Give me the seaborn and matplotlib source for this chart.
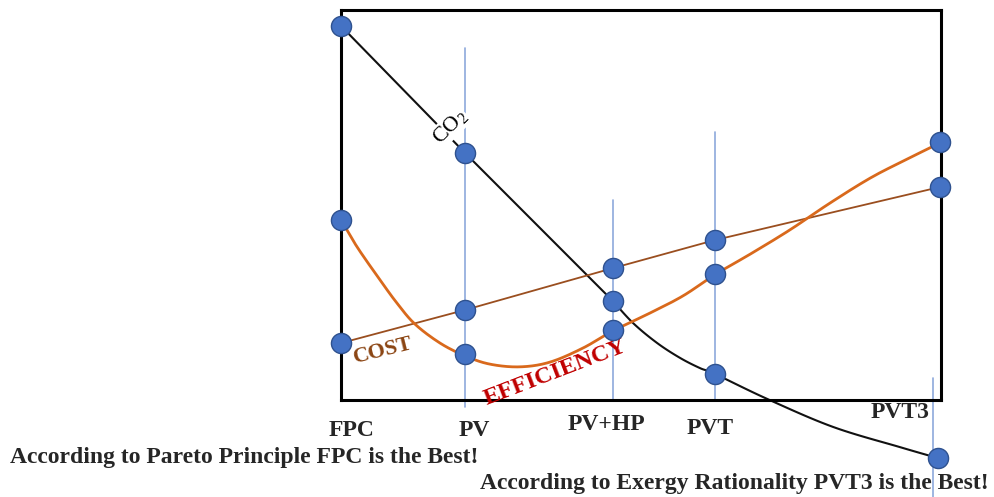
import matplotlib
matplotlib.use("Agg")
import numpy as np
import matplotlib.pyplot as plt
import seaborn as sns

# categories and their position along the horizontal scale (0-100)
categories = ["FPC", "PV", "PV+HP", "PVT", "PVT3"]
cat_x = [0, 20.7, 45.3, 62.3, 99.8]

# CO2 curve (traced), markers at the category points
co2_x = [0, 20.7, 45.3, 48.7, 52.7, 56.5, 59.8, 62.3, 71.0, 82.0, 93.2, 99.5]
co2_y = [95.9, 63.3, 25.4, 19.7, 14.6, 10.8, 8.2, 6.7, 0.3, -6.9, -12.1, -14.9]
co2_marks = [0, 1, 2, 7, 11]

# cost: straight segments between the categories
cost_y = [14.6, 23.1, 33.8, 41.0, 54.6]

# efficiency curve (traced) and its category values
eff_x = [0, 2.7, 6.5, 9.3, 12.3, 16.5, 20.7, 24.8, 29.8, 34.8, 40.3,
         45.3, 51.5, 57.0, 62.5, 68.2, 74.8, 81.5, 88.2, 94.0, 99.8]
eff_y = [46.2, 39.2, 30.8, 24.9, 19.5, 14.6, 11.3, 9.2, 8.5, 9.7, 13.3,
         17.7, 22.3, 26.7, 32.3, 37.4, 43.6, 50.5, 56.9, 61.5, 65.9]
eff_marks = [46.2, 11.8, 17.9, 32.3, 66.2]

# thin blue guide lines (x, top, bottom)
guide_x = [20.7, 45.3, 62.3, 98.7]
guide_top = [90.3, 51.3, 68.7, 5.6]
guide_bottom = [-1.8, 0, 0, -24.9]

SERIF = ["Liberation Serif", "DejaVu Serif"]
MARK = "#4472C4"
MARK_EDGE = "#2F528F"


def smooth(xs, ys, n=12):
    # Catmull-Rom through the traced points, only to draw a smooth stroke
    p = np.column_stack([xs, ys]).astype(float)
    p = np.vstack([p[0], p, p[-1]])
    out = []
    t = np.linspace(0, 1, n, endpoint=False)[:, None]
    for i in range(1, len(p) - 2):
        p0, p1, p2, p3 = p[i - 1], p[i], p[i + 1], p[i + 2]
        seg = 0.5 * (2 * p1 + (-p0 + p2) * t + (2 * p0 - 5 * p1 + 4 * p2 - p3) * t**2
                     + (-p0 + 3 * p1 - 3 * p2 + p3) * t**3)
        out.append(seg)
    out.append(p[-2][None, :])
    out = np.vstack(out)
    return out[:, 0], out[:, 1]


sns.set_style("white")
plt.rcParams["font.family"] = SERIF
plt.rcParams["mathtext.fontset"] = "custom"
plt.rcParams["mathtext.rm"] = "Liberation Serif"

fig = plt.figure(figsize=(9.94, 4.97), dpi=100)
ax = fig.add_axes([341 / 994, 97 / 497, 600 / 994, 390 / 497])
ax.set_xlim(0, 100)
ax.set_ylim(0, 100)

for gx, gt, gb in zip(guide_x, guide_top, guide_bottom):
    ax.plot([gx, gx], [gb, gt], color="#8EA9DB", lw=1.2, clip_on=False, zorder=1)

sns.lineplot(x=co2_x[:3], y=co2_y[:3], sort=False, color="#111111", lw=1.5,
             ax=ax, zorder=2)
cx, cy = smooth(co2_x[2:], co2_y[2:])
sns.lineplot(x=cx, y=cy, sort=False, color="#111111", lw=1.5, ax=ax,
             zorder=2, clip_on=False)
sns.lineplot(x=cat_x, y=cost_y, sort=False, color="#9A4E1F", lw=1.3, ax=ax, zorder=2)
ex, ey = smooth(eff_x, eff_y)
sns.lineplot(x=ex, y=ey, sort=False, color="#D9691C", lw=2.0, ax=ax, zorder=2)

pts_x = cat_x + cat_x + [co2_x[i] for i in co2_marks]
pts_y = cost_y + eff_marks + [co2_y[i] for i in co2_marks]
sns.scatterplot(x=pts_x, y=pts_y, s=210, color=MARK, edgecolor=MARK_EDGE,
                linewidth=1, ax=ax, zorder=4, clip_on=False)

for side in ax.spines.values():
    side.set_visible(True)
    side.set_color("black")
    side.set_linewidth(2.2)
ax.set_xticks([])
ax.set_yticks([])

ax.text(18.2, 70.0, r"CO$_\mathrm{2}$", rotation=45, fontsize=16, color="black",
        ha="center", va="center", zorder=3,
        bbox=dict(facecolor="white", edgecolor="none", pad=0.5))
ax.text(7.0, 12.5, "COST", rotation=14, fontsize=16, fontweight="bold",
        color="#8B4513", ha="center", va="center")
ax.text(35.7, 7.0, "EFFICIENCY", rotation=21, fontsize=17.5, fontweight="bold",
        color="#C00000", ha="center", va="center", zorder=3)

# category labels under the box
label_px = [(352, 430), (474, 430), (606, 425), (710, 428), (900, 412)]
for name, (px, py) in zip(categories, label_px):
    fig.text(px / 994, 1 - py / 497, name, fontsize=17, fontweight="bold",
             ha="center", va="center")

fig.text(10 / 994, 1 - 458 / 497, "According to Pareto Principle FPC is the Best!",
         fontsize=17, fontweight="bold", ha="left", va="center")
fig.text(480 / 994, 1 - 483 / 497, "According to Exergy Rationality PVT3 is the Best!",
         fontsize=17, fontweight="bold", ha="left", va="center")

fig.savefig("out.png", dpi=100, facecolor="white")
